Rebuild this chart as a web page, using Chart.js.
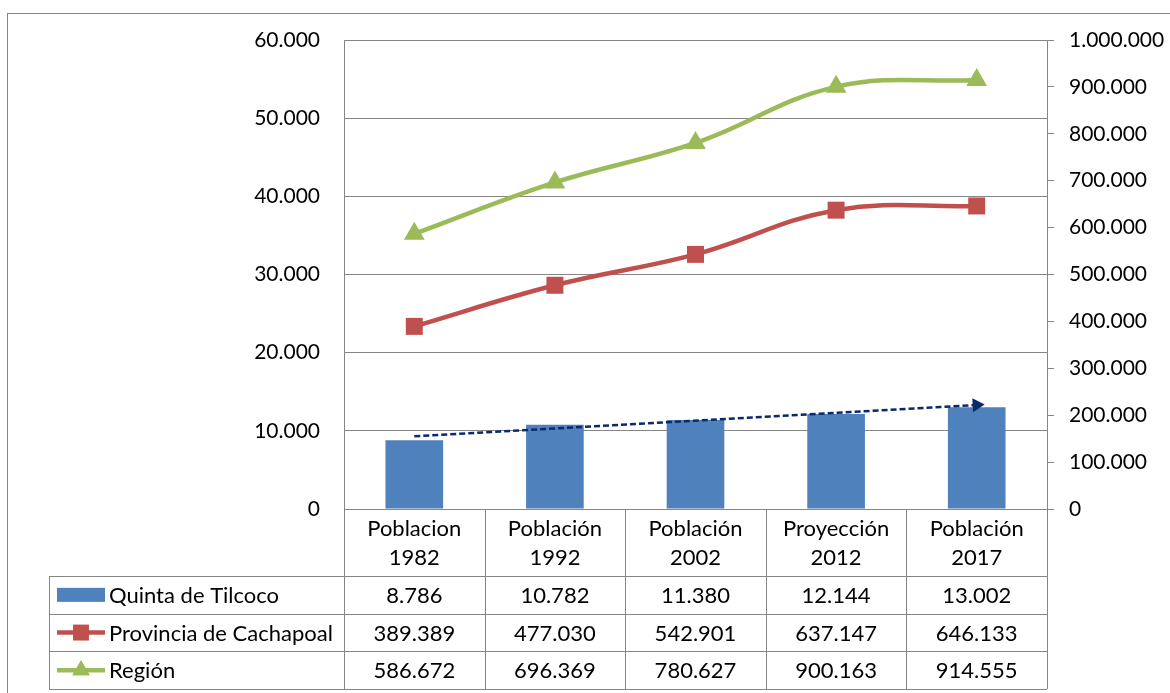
<!DOCTYPE html>
<html>
<head>
<meta charset="utf-8">
<script src="https://cdn.jsdelivr.net/npm/chart.js@4/dist/chart.umd.min.js"></script>
<style>
  html, body { margin: 0; padding: 0; background: #ffffff; }
  #wrap { width: 1170px; height: 693px; position: relative; }
</style>
</head>
<body>
<div id="wrap"><canvas id="c" width="1170" height="693"></canvas></div>
<script>
// ---- data ----
const categories = [["Poblacion", "1982"], ["Población", "1992"], ["Población", "2002"], ["Proyección", "2012"], ["Población", "2017"]];
const seriesNames = ["Quinta de Tilcoco", "Provincia de Cachapoal", "Región"];
const quintaTilcoco = [8786, 10782, 11380, 12144, 13002];
const provinciaCachapoal = [389389, 477030, 542901, 637147, 646133];
const region = [586672, 696369, 780627, 900163, 914555];
const trendArrow = [9300, null, null, null, 13300];
const leftAxisMax = 60000, leftAxisStep = 10000;
const rightAxisMax = 1000000, rightAxisStep = 100000;

// ---- styles ----
const FONT = "Lato";
const FS = 21;
const TFS = 22;
const GRID = "#868686";
const BLUE = "#4F81BD", RED = "#C0504D", GREEN = "#9BBB59", NAVY = "#0B2A6B";

function fmt(v) {
  return String(v).replace(/\B(?=(\d{3})+(?!\d))/g, ".");
}

Chart.defaults.font.family = FONT;
Chart.defaults.font.size = FS;
Chart.defaults.color = "#000000";

const frame = {
  id: "frame",
  beforeDraw(chart) {
    const ctx = chart.ctx;
    ctx.save();
    ctx.fillStyle = "#ffffff";
    ctx.fillRect(0, 0, chart.width, chart.height);
    ctx.strokeStyle = GRID;
    ctx.lineWidth = 1;
    ctx.strokeRect(7.5, 13.5, 1200, 720);
    ctx.restore();
  }
};

const dataTable = {
  id: "dataTable",
  afterDraw(chart) {
    const ctx = chart.ctx;
    const x = chart.scales.x;
    const area = chart.chartArea;
    const n = categories.length;
    const cw = (x.right - x.left) / n;
    const rowTop = 576, rowH = 37.7, legendLeft = 49;
    const rows = [
      { name: seriesNames[0], values: quintaTilcoco, key: "bar", color: BLUE },
      { name: seriesNames[1], values: provinciaCachapoal, key: "rect", color: RED },
      { name: seriesNames[2], values: region, key: "triangle", color: GREEN }
    ];
    const bottom = rowTop + rowH * rows.length;
    ctx.save();
    ctx.strokeStyle = GRID;
    ctx.lineWidth = 1;
    ctx.beginPath();
    for (let i = 0; i <= n; i++) {
      const px = Math.round(x.left + i * cw) + 0.5;
      ctx.moveTo(px, area.bottom);
      ctx.lineTo(px, bottom);
    }
    ctx.moveTo(legendLeft + 0.5, rowTop);
    ctx.lineTo(legendLeft + 0.5, bottom);
    for (let r = 0; r <= rows.length; r++) {
      const py = Math.round(rowTop + r * rowH) + 0.5;
      ctx.moveTo(legendLeft, py);
      ctx.lineTo(x.right, py);
    }
    ctx.stroke();

    ctx.font = TFS + "px " + FONT;
    ctx.fillStyle = "#000000";
    ctx.textBaseline = "middle";
    rows.forEach((row, r) => {
      const cy = rowTop + r * rowH + rowH / 2;
      if (row.key === "bar") {
        ctx.fillStyle = row.color;
        ctx.fillRect(57, cy - 7, 48, 14);
      } else {
        ctx.strokeStyle = row.color;
        ctx.lineWidth = 4.5;
        ctx.beginPath();
        ctx.moveTo(57, cy);
        ctx.lineTo(105, cy);
        ctx.stroke();
        ctx.fillStyle = row.color;
        Chart.helpers.drawPoint(ctx, { pointStyle: row.key, radius: row.key === "rect" ? 11 : 10, rotation: 0, borderWidth: 0 }, 81, cy);
        ctx.fill();
      }
      ctx.fillStyle = "#000000";
      ctx.textAlign = "left";
      ctx.fillText(row.name, 109, cy + 1);
      ctx.textAlign = "center";
      row.values.forEach((v, i) => {
        ctx.fillText(fmt(v), x.getPixelForValue(i), cy + 1);
      });
    });
    ctx.restore();
  }
};

new Chart(document.getElementById("c"), {
  data: {
    labels: categories,
    datasets: [
      {
        type: "line", label: seriesNames[1], data: provinciaCachapoal, yAxisID: "y1",
        borderColor: RED, backgroundColor: RED, borderWidth: 4.5, tension: 0.4,
        pointStyle: "rect", pointRadius: 12, pointBorderWidth: 0, order: 1
      },
      {
        type: "line", label: seriesNames[2], data: region, yAxisID: "y1",
        borderColor: GREEN, backgroundColor: GREEN, borderWidth: 4.5, tension: 0.4,
        pointStyle: "triangle", pointRadius: 12, pointBorderWidth: 0, order: 1
      },
      {
        type: "line", label: "trend", data: trendArrow, yAxisID: "y", spanGaps: true,
        borderColor: NAVY, backgroundColor: NAVY, borderWidth: 2.5, borderDash: [6, 3],
        pointStyle: "triangle", pointRadius: [0, 0, 0, 0, 8], pointRotation: 87,
        pointBorderWidth: 0, tension: 0, order: 2
      },
      {
        type: "bar", label: seriesNames[0], data: quintaTilcoco, yAxisID: "y",
        backgroundColor: BLUE, borderWidth: 0, categoryPercentage: 1.0, barPercentage: 0.41, order: 3
      }
    ]
  },
  options: {
    responsive: false,
    devicePixelRatio: 1,
    animation: false,
    layout: { padding: { top: 40, left: 0, right: 0, bottom: 0 } },
    plugins: { legend: { display: false }, tooltip: { enabled: false } },
    scales: {
      x: {
        type: "category", offset: true,
        grid: { display: false },
        border: { display: true, color: GRID, width: 1 },
        ticks: { padding: -3, maxRotation: 0, autoSkip: false, color: "#000000", font: { size: TFS, lineHeight: 1.34 } },
        afterFit(s) { s.height = 184; }
      },
      y: {
        position: "left", min: 0, max: leftAxisMax,
        grid: { color: GRID, lineWidth: 1, drawTicks: false },
        border: { display: true, color: GRID, width: 1 },
        ticks: { stepSize: leftAxisStep, padding: 24, color: "#000000", callback: v => fmt(v) },
        afterFit(s) { s.width = 344; }
      },
      y1: {
        position: "right", min: 0, max: rightAxisMax,
        grid: { drawOnChartArea: false, drawTicks: true, tickLength: 7, color: GRID, lineWidth: 1 },
        border: { display: true, color: GRID, width: 1 },
        ticks: { stepSize: rightAxisStep, padding: 15, color: "#000000", callback: v => fmt(v) },
        afterFit(s) { s.width = 123; }
      }
    }
  },
  plugins: [frame, dataTable]
});
</script>
</body>
</html>
